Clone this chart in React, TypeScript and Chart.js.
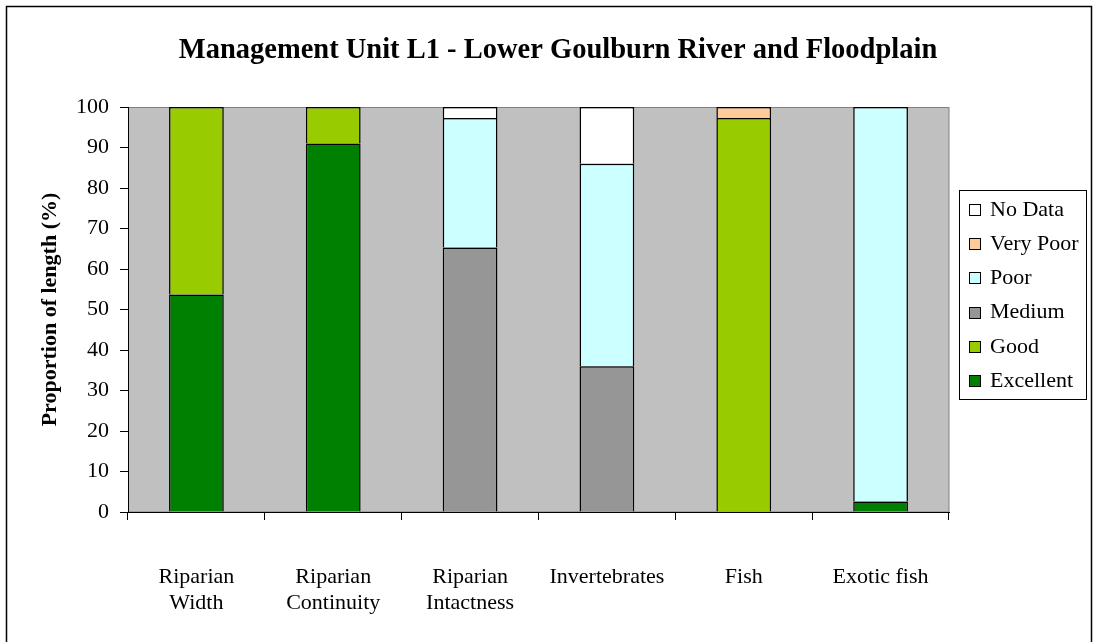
import React, { useEffect, useRef } from "react";
import { Chart, registerables } from "chart.js";

Chart.register(...registerables);

const chartTitle = "Management Unit L1 - Lower Goulburn River and Floodplain";
const yAxisTitle = "Proportion of length (%)";
const categories: string[][] = [
  ["Riparian", "Width"],
  ["Riparian", "Continuity"],
  ["Riparian", "Intactness"],
  ["Invertebrates"],
  ["Fish"],
  ["Exotic fish"],
];
const seriesNames = ["Excellent", "Good", "Medium", "Poor", "Very Poor", "No Data"];
const seriesColors = ["#008000", "#99CC00", "#969696", "#CCFFFF", "#FFCC99", "#FFFFFF"];
const excellent = [53.7, 91, null, null, null, 2.6];
const good = [46.3, 9, null, null, 97.3, null];
const medium = [null, null, 65.3, 36, null, null];
const poor = [null, null, 32, 50, null, 97.4];
const veryPoor = [null, null, null, null, 2.7, null];
const noData = [null, null, 2.7, 14, null, null];
const seriesValues = [excellent, good, medium, poor, veryPoor, noData];

const FONT = "'Liberation Serif', 'Times New Roman', serif";

const decorPlugin = {
  id: "decor",
  beforeDraw(chart: any) {
    const { ctx, chartArea } = chart;
    ctx.save();
    ctx.fillStyle = "#FFFFFF";
    ctx.fillRect(0, 0, chart.width, chart.height);
    // outer chart border
    ctx.strokeStyle = "#000000";
    ctx.lineWidth = 1.5;
    ctx.strokeRect(6.5, 6.5, 1085, 700);
    // plot area
    ctx.fillStyle = "#C0C0C0";
    ctx.fillRect(chartArea.left, chartArea.top, chartArea.right - chartArea.left, chartArea.bottom - chartArea.top);
    ctx.strokeStyle = "#808080";
    ctx.lineWidth = 1;
    ctx.strokeRect(chartArea.left + 0.5, chartArea.top + 0.5, chartArea.right - chartArea.left - 0.5, chartArea.bottom - chartArea.top - 0.5);
    // title
    ctx.fillStyle = "#000000";
    ctx.font = `bold 28.5px ${FONT}`;
    ctx.textAlign = "center";
    ctx.textBaseline = "middle";
    ctx.fillText(chartTitle, 558, 51);
    ctx.restore();
  },
  afterDraw(chart: any) {
    const { ctx } = chart;
    const ds = chart.data.datasets;
    ctx.save();
    const bx = 959.5, by = 190.5, bw = 127, bh = 209;
    ctx.fillStyle = "#FFFFFF";
    ctx.fillRect(bx, by, bw, bh);
    ctx.strokeStyle = "#000000";
    ctx.lineWidth = 1;
    ctx.strokeRect(bx, by, bw, bh);
    ctx.font = `22px ${FONT}`;
    ctx.textAlign = "left";
    ctx.textBaseline = "middle";
    for (let i = 0; i < ds.length; i++) {
      const d = ds[ds.length - 1 - i];
      const cy = 210 + i * 34.2;
      ctx.fillStyle = d.backgroundColor;
      ctx.fillRect(969.5, Math.round(cy) - 5.5, 11, 11);
      ctx.strokeStyle = "#000000";
      ctx.strokeRect(969.5, Math.round(cy) - 5.5, 11, 11);
      ctx.fillStyle = "#000000";
      ctx.fillText(d.label, 990, cy);
    }
    ctx.restore();
  },
};

export default function App() {
  const ref = useRef<HTMLCanvasElement | null>(null);
  useEffect(() => {
    document.body.style.margin = "0";
    const canvas = ref.current!;
    const chart = new Chart(canvas, {
      type: "bar",
      data: {
        labels: categories as any,
        datasets: seriesNames.map((name, i) => ({
          label: name,
          data: seriesValues[i] as any,
          backgroundColor: seriesColors[i],
          borderColor: "#000000",
          borderWidth: { top: 1.5, left: 1.5, right: 1.5, bottom: 0 },
          borderSkipped: false,
          barPercentage: 0.4,
          categoryPercentage: 1,
        })),
      },
      options: {
        responsive: false,
        animation: false,
        devicePixelRatio: 1,
        layout: { padding: { top: 107, right: 148, bottom: 0, left: 0 } },
        plugins: {
          legend: { display: false },
          title: { display: false },
          tooltip: { enabled: false },
        },
        scales: {
          x: {
            stacked: true,
            grid: { display: true, drawOnChartArea: false, drawTicks: true, tickLength: 8, color: "#000000", offset: true },
            border: { display: true, color: "#000000", width: 1 },
            ticks: { color: "#000000", font: { family: FONT, size: 22 }, maxRotation: 0, autoSkip: false, padding: 44 },
            afterFit: (s: any) => { s.height = 130; },
          },
          y: {
            stacked: true,
            min: 0,
            max: 100,
            grid: { display: true, drawOnChartArea: false, drawTicks: true, tickLength: 8, color: "#000000" },
            border: { display: true, color: "#000000", width: 1 },
            ticks: { stepSize: 10, color: "#000000", font: { family: FONT, size: 22 }, padding: 11 },
            title: {
              display: true,
              text: yAxisTitle,
              color: "#000000",
              font: { family: FONT, size: 22, weight: "bold" },
              padding: { top: 37, bottom: 0 },
            },
            afterFit: (s: any) => { s.width = 128; },
          },
        },
      },
      plugins: [decorPlugin],
    });
    return () => chart.destroy();
  }, []);
  return (
    <div style={{ position: "relative", width: 1097, height: 642 }}>
      <canvas ref={ref} width={1097} height={642} style={{ display: "block", width: 1097, height: 642 }} />
    </div>
  );
}
